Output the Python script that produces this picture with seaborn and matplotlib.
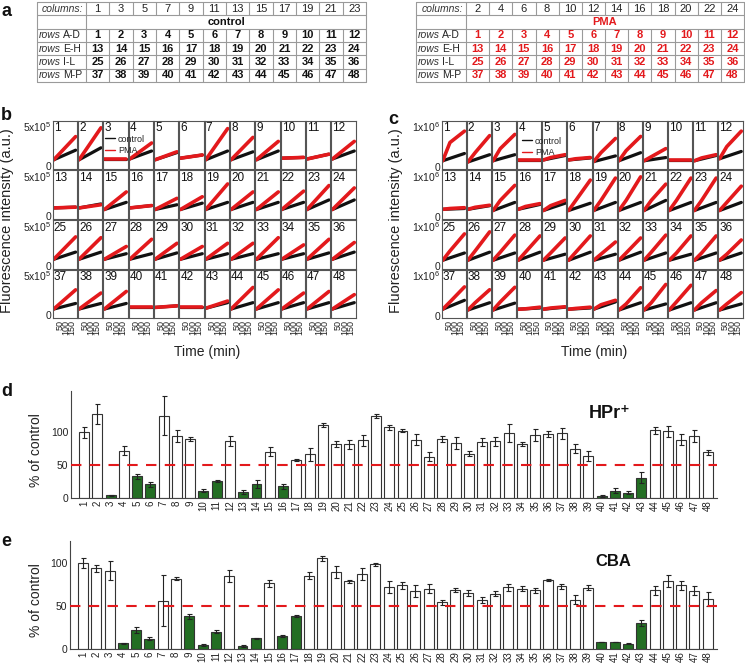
import numpy as np
import pandas as pd
import seaborn as sns
import matplotlib.pyplot as plt
from matplotlib.lines import Line2D

# === Data ===
wells = list(range(1, 49))

# panel d: HPr+ (% of control)
hpr_mean = [100, 128, 3.6, 72, 33, 20.5, 125.6, 95, 90, 11,
            25.6, 87, 8.2, 20.5, 70.8, 17.4, 58, 66.7, 111, 82,
            82, 88, 124.6, 107.7, 102.6, 89, 63, 90, 84, 67.7,
            85, 86.7, 99, 82.6, 96.4, 97.4, 98.5, 75.4, 64, 3,
            11, 7.7, 30.8, 103, 101.5, 89, 94, 69.7]
hpr_err = [9, 15, 1, 7, 4, 4, 30, 9, 3, 2,
           2, 7, 3, 6, 7, 4, 2, 10, 3, 5,
           7, 8, 3, 4, 2, 8, 7, 4, 9, 4,
           6, 7, 14, 3, 9, 5, 8, 7, 8, 1.5,
           4, 2, 8, 5, 8, 8, 9, 4]
hpr_hits = [3, 5, 6, 10, 11, 13, 14, 16, 40, 41, 42, 43]

# panel e: CBA (% of control)
cba_mean = [100, 93.4, 90.7, 6.2, 21.7, 11.6, 56, 81.4, 37.6, 4.3,
            19.8, 84, 3, 12, 76, 15, 38, 85, 105, 88.8,
            78.3, 86.8, 98, 71.3, 73.6, 67, 70, 53.9, 68.2, 64.7,
            56.6, 64, 71.3, 70, 67.8, 79.5, 72.5, 57, 71, 7.8,
            7.8, 5.8, 29.8, 67.8, 79, 73.6, 67.4, 57.4]
cba_err = [6, 4, 11, 1, 3, 2, 30, 2, 3, 1,
           2, 7, 0.8, 1, 4, 1, 1, 4, 3, 7,
           2, 7, 2, 7, 4, 7, 5, 3, 2, 3,
           3, 3, 4, 3, 3, 1, 3, 5, 3, 0.5,
           0.5, 0.5, 3, 5, 7, 5, 5, 8]
cba_hits = [4, 5, 6, 9, 10, 11, 13, 14, 16, 17, 40, 41, 42, 43]

# panel b: fluorescence (x1e5 a.u.) at t=0 and t=180 min
b_start = [0.8, 0.8, 0.85, 0.9, 0.8, 1.0, 0.8, 0.8, 0.8, 1.0, 0.9, 0.9,
           1.0, 1.0, 0.8, 1.0, 0.8, 0.8, 0.8, 0.8, 0.8, 0.8, 0.8, 0.8,
           0.8, 0.8, 0.8, 0.8, 0.8, 0.8, 0.8, 0.8, 0.8, 0.8, 0.8, 0.8,
           0.8, 0.8, 0.8, 1.0, 1.0, 1.0, 0.9, 0.8, 0.8, 0.8, 0.8, 0.8]
b_ctrl_end = [2.0, 2.3, 0.85, 1.9, 1.7, 1.4, 1.9, 1.8, 1.9, 1.1, 1.5, 1.9,
              1.1, 1.5, 1.7, 1.3, 1.4, 1.6, 1.7, 1.7, 1.7, 1.7, 2.0, 2.0,
              1.7, 1.7, 1.5, 1.5, 1.6, 1.5, 1.5, 1.5, 1.5, 1.5, 1.6, 1.7,
              1.5, 1.5, 1.5, 1.0, 1.2, 1.0, 1.6, 1.6, 1.6, 1.6, 1.6, 1.6]
b_pma_end = [3.7, 4.8, 0.85, 2.9, 1.8, 1.4, 4.7, 3.6, 3.1, 1.1, 1.5, 3.1,
             1.1, 1.4, 3.0, 1.3, 2.2, 2.4, 4.0, 3.0, 3.0, 3.1, 3.8, 3.5,
             3.6, 3.5, 2.4, 3.3, 2.8, 2.4, 2.8, 2.8, 3.5, 2.6, 3.3, 2.9,
             3.2, 2.8, 3.0, 1.0, 1.2, 1.0, 1.8, 3.5, 3.2, 2.8, 3.0, 2.6]

# panel c: fluorescence (x1e6 a.u.) at t=0, 60 and 180 min
c_start = [0.15, 0.12, 0.15, 0.17, 0.17, 0.17, 0.13, 0.15, 0.15, 0.18, 0.15, 0.2,
           0.18, 0.18, 0.15, 0.18, 0.15, 0.15, 0.15, 0.15, 0.15, 0.15, 0.15, 0.15,
           0.15, 0.15, 0.15, 0.15, 0.15, 0.15, 0.15, 0.15, 0.15, 0.15, 0.15, 0.15,
           0.17, 0.15, 0.15, 0.17, 0.17, 0.17, 0.17, 0.15, 0.15, 0.15, 0.15, 0.15]
c_ctrl_end = [0.33, 0.3, 0.3, 0.17, 0.28, 0.22, 0.27, 0.35, 0.23, 0.18, 0.28, 0.38,
              0.2, 0.27, 0.35, 0.3, 0.33, 0.33, 0.35, 0.35, 0.4, 0.35, 0.35, 0.35,
              0.33, 0.35, 0.33, 0.35, 0.3, 0.35, 0.3, 0.35, 0.33, 0.3, 0.33, 0.33,
              0.39, 0.33, 0.32, 0.2, 0.22, 0.2, 0.35, 0.33, 0.3, 0.33, 0.33, 0.3]
c_pma_mid = [0.6, 0.35, 0.45, 0.17, 0.23, 0.2, 0.35, 0.4, 0.25, 0.18, 0.22, 0.5,
             0.2, 0.23, 0.4, 0.25, 0.27, 0.4, 0.4, 0.4, 0.4, 0.4, 0.4, 0.35,
             0.38, 0.38, 0.35, 0.35, 0.33, 0.35, 0.3, 0.33, 0.35, 0.33, 0.33, 0.3,
             0.35, 0.33, 0.35, 0.18, 0.2, 0.19, 0.28, 0.3, 0.33, 0.35, 0.33, 0.3]
c_pma_end = [0.88, 0.77, 0.8, 0.17, 0.3, 0.23, 0.7, 0.75, 0.45, 0.18, 0.3, 0.88,
             0.22, 0.28, 0.77, 0.32, 0.4, 0.9, 0.95, 0.98, 0.8, 0.95, 0.95, 0.75,
             0.8, 0.85, 0.77, 0.75, 0.7, 0.75, 0.6, 0.7, 0.77, 0.75, 0.75, 0.65,
             0.72, 0.65, 0.71, 0.22, 0.23, 0.22, 0.39, 0.7, 0.78, 0.76, 0.63, 0.58]

# panel a: plate layout tables
ctrl_columns = [1, 3, 5, 7, 9, 11, 13, 15, 17, 19, 21, 23]
pma_columns = [2, 4, 6, 8, 10, 12, 14, 16, 18, 20, 22, 24]
row_groups = ["A-D", "E-H", "I-L", "M-P"]

# === Style ===
sns.set_style("white")
plt.rcParams['font.family'] = ['Liberation Sans', 'DejaVu Sans']
plt.rcParams['mathtext.default'] = 'regular'

RED = '#e3191c'
GREEN = '#177a17'
FRAME = '#555555'
W, H = 745, 664

fig = plt.figure(figsize=(W / 100, H / 100), dpi=100)


def box(x0, y0, x1, y1):
    # pixel box (top-left origin) -> figure rect
    return [x0 / W, 1 - y1 / H, (x1 - x0) / W, (y1 - y0) / H]


# === Panel a: tables ===
def draw_table(rect, c0, columns, title, color):
    ax = fig.add_axes(rect)
    x_w = rect[2] * W
    ax.set_xlim(0, x_w)
    ax.set_ylim(6, 0)
    ax.axis('off')
    cw = (x_w - c0) / 12
    lc = '#9a9a9a'
    for r in range(7):
        ax.plot([0, x_w], [r, r], color=lc, lw=0.8, clip_on=False)
    for x in [0, c0, x_w]:
        ax.plot([x, x], [0, 6], color=lc, lw=0.8, clip_on=False)
    for k in range(1, 12):
        x = c0 + k * cw
        ax.plot([x, x], [0, 1], color=lc, lw=0.8)
        ax.plot([x, x], [2, 6], color=lc, lw=0.8)
    ax.text(c0 - 3, 0.5, "columns:", style='italic', ha='right', va='center',
            fontsize=7.5, color='#333')
    for k, col in enumerate(columns):
        ax.text(c0 + (k + 0.5) * cw, 0.5, str(col), ha='center', va='center',
                fontsize=8, color='#222')
    ax.text(c0 + 6 * cw, 1.5, title, ha='center', va='center', fontsize=8,
            fontweight='bold', color=color)
    for r, grp in enumerate(row_groups):
        y = 2.5 + r
        ax.text(2, y, "rows", style='italic', ha='left', va='center', fontsize=7.5, color='#333')
        ax.text(26, y, grp, ha='left', va='center', fontsize=7.5, color='#222')
        for k in range(12):
            ax.text(c0 + (k + 0.5) * cw, y, str(r * 12 + k + 1), ha='center',
                    va='center', fontsize=8, fontweight='bold', color=color)


draw_table(box(37, 2, 366, 82), 49, ctrl_columns, "control", '#111')
draw_table(box(416, 2, 744, 82), 50, pma_columns, "PMA", RED)


# === Panels b, c: kinetic curves ===
def curve_grid(x0, x1, start, ctrl_end, pma_end, ylim, yticks, ylabels, pma_mid=None):
    px = (x1 - x0) / 12
    py = (319 - 120) / 4
    for i, well in enumerate(wells):
        r, c = divmod(i, 12)
        ax = fig.add_axes(box(x0 + c * px + 0.5, 120 + r * py + 0.6,
                              x0 + (c + 1) * px - 0.5, 120 + (r + 1) * py - 0.6))
        sns.lineplot(x=[0, 180], y=[start[i], ctrl_end[i]], ax=ax, color='#111',
                     linewidth=2.3, legend=False)
        if pma_mid is None:
            sns.lineplot(x=[0, 180], y=[start[i], pma_end[i]], ax=ax, color=RED,
                         linewidth=2.6, legend=False)
        else:
            sns.lineplot(x=[0, 60, 180], y=[start[i], pma_mid[i], pma_end[i]], ax=ax,
                         color=RED, linewidth=2.6, legend=False)
        ax.set_xlim(-10, 190)
        ax.set_ylim(*ylim)
        ax.set_xlabel('')
        ax.set_ylabel('')
        ax.set_xticks([0, 50, 100, 150])
        ax.set_yticks(yticks)
        ax.tick_params(direction='in', length=2, width=0.6, colors='#444', pad=1)
        if r == 3:
            ax.set_xticklabels(['', '50', '100', '150'], rotation=90, fontsize=6.5, color='#222')
        else:
            ax.set_xticklabels([])
        if c == 0:
            ax.set_yticklabels(ylabels, fontsize=7.5, color='#222')
        else:
            ax.set_yticklabels([])
        for s in ax.spines.values():
            s.set_color(FRAME)
            s.set_linewidth(0.8)
        ax.text(0.05, 0.97, str(well), transform=ax.transAxes, ha='left', va='top',
                fontsize=8.5, color='#111')


curve_grid(52, 356, b_start, b_ctrl_end, b_pma_end, (-0.37, 5.7), [0, 5],
           ['0', r'5x10$^5$'])
curve_grid(441, 743, c_start, c_ctrl_end, c_pma_end, (-0.056, 1.14), [0, 1],
           ['0', r'1x10$^6$'], pma_mid=c_pma_mid)

handles = [Line2D([], [], color='#111', lw=1), Line2D([], [], color=RED, lw=1)]
for lx, ly in [(100, 130), (517, 132)]:
    fig.legend(handles=handles, labels=['control', 'PMA'], loc='upper left',
               bbox_to_anchor=(lx / W, 1 - ly / H), frameon=False, fontsize=6.5,
               handlelength=1.2, handletextpad=0.3, labelspacing=0.25, borderpad=0)

for cx in [7, 396]:
    fig.text(cx / W, 1 - 221 / H, 'Fluorescence intensity (a.u.)', rotation=90,
             ha='center', va='center', fontsize=10.5, color='#222')
for cx in [207, 594]:
    fig.text(cx / W, 1 - 352 / H, 'Time (min)', ha='center', va='center',
             fontsize=10, color='#222')


# === Panels d, e: bar charts ===
def bar_panel(rect, mean, err, hits, top, name, name_xy):
    ax = fig.add_axes(rect)
    df = pd.DataFrame({
        'well': [str(w) for w in wells],
        'pct': mean,
        'hit': ['hit' if w in hits else 'no' for w in wells],
    })
    sns.barplot(data=df, x='well', y='pct', hue='hit', palette={'hit': GREEN, 'no': 'white'},
                dodge=False, width=0.75, edgecolor='#333', linewidth=0.8, errorbar=None,
                legend=False, ax=ax)
    ax.errorbar(np.arange(len(wells)), mean, yerr=err, fmt='none', ecolor='#222',
                elinewidth=0.8, capsize=1.8, capthick=0.8, zorder=4)
    ax.axhline(50, color=RED, lw=1.5, dashes=(5, 4), zorder=5)
    ax.set_xlim(-0.98, 47.7)
    ax.set_ylim(0, top)
    ax.set_yticks([0, 50, 100])
    ax.set_xlabel('')
    ax.set_ylabel('')
    ax.tick_params(axis='x', rotation=90, labelsize=7, length=0, pad=2, colors='#222')
    ax.tick_params(axis='y', labelsize=7.5, length=2, width=0.6, direction='in', pad=2,
                   colors='#222')
    sns.despine(ax=ax)
    for s in ['left', 'bottom']:
        ax.spines[s].set_color('#444')
        ax.spines[s].set_linewidth(0.8)
    fig.text(name_xy[0] / W, 1 - name_xy[1] / H, name, ha='center', va='center',
             fontsize=13 if name.startswith('HPr') else 12, fontweight='bold', color='#111')


bar_panel(box(71, 390.7, 717, 497.7), hpr_mean, hpr_err, hpr_hits, 164, 'HPr⁺', (610, 414))
bar_panel(box(70, 540.7, 717, 648.7), cba_mean, cba_err, cba_hits, 125.6, 'CBA', (613, 561))

for cy in [450, 600]:
    fig.text(36 / W, 1 - cy / H, '% of control', rotation=90, ha='center', va='center',
             fontsize=10, color='#222')

# === Panel letters ===
for letter, lx, ly in [('a', 1, 11), ('b', 1, 116), ('c', 388, 120), ('d', 1, 392), ('e', 1, 541)]:
    fig.text(lx / W, 1 - ly / H, letter, ha='left', va='center', fontsize=13,
             fontweight='bold', color='#111')

fig.savefig('out.png', dpi=100)
